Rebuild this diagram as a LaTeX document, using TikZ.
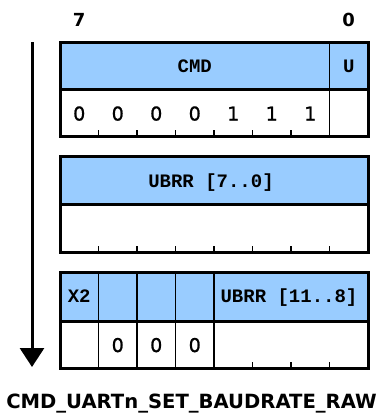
\documentclass[tikz,border=0pt]{standalone}
\usepackage{fontspec}
\usetikzlibrary{arrows.meta}
\newfontfamily\hdrfont{Liberation Mono}
\newfontfamily\valfont{DejaVu Sans}
\newfontfamily\valmedfont{DejaVu Sans}[FakeBold=1.2]
\definecolor{hdrblue}{HTML}{99CCFF}
\tikzset{
  outer/.style={line width=3pt, line join=miter},
  divider/.style={line width=1.6pt},
  tickmark/.style={line width=1.3pt},
  hdr/.style={font=\hdrfont\bfseries\fontsize{19}{19}\selectfont, anchor=base, inner sep=0pt},
  bitval/.style={font=\valmedfont\fontsize{19}{19}\selectfont, anchor=base, inner sep=0pt},
  bitnum/.style={font=\valfont\bfseries\fontsize{18}{18}\selectfont, anchor=base, inner sep=0pt},
  caption/.style={font=\valfont\bfseries\fontsize{19.6}{19.6}\selectfont, anchor=base, inner sep=0pt},
}
\begin{document}
\begin{tikzpicture}[x=1pt, y=-1pt]
\useasboundingbox (0,0) rectangle (383,415);

% bit numbering above the first byte
\node[bitnum] (msb) at (79.25,26.5) {7};
\node[bitnum] (lsb) at (348.75,26.5) {0};

% ---- byte 0: command code and U flag ----
\fill[hdrblue] (60,42) rectangle (368,89);
\draw[divider] (329.5,42) -- (329.5,136);
\foreach \k in {1,...,7} \draw[tickmark] ({60+38.5*\k},136) -- ++(0,-6);
\draw[outer] (60,42) rectangle (368,136);
\draw[outer] (60,89) -- (368,89);
\node[hdr] (cmd) at (194.75,72) {CMD};
\node[hdr] (uflag) at (348.75,72) {U};
\foreach \v [count=\i from 0] in {0,0,0,0,1,1,1}
  \node[bitval] (code\i) at ({79.25+38.5*\i},120.5) {\v};

% ---- byte 1: UBRR low bits ----
\fill[hdrblue] (60,156) rectangle (368,204);
\foreach \k in {1,...,7} \draw[tickmark] ({60+38.5*\k},252) -- ++(0,-6);
\draw[outer] (60,156) rectangle (368,252);
\draw[outer] (60,204) -- (368,204);
\node[hdr] (ubrrlo) at (211,187) {UBRR [7..0]};

% ---- byte 2: X2 flag, reserved zeros, UBRR high bits ----
\fill[hdrblue] (60,272) rectangle (368,321);
\foreach \k in {1,...,4} \draw[divider] ({60+38.5*\k},272) -- ({60+38.5*\k},368);
\foreach \k in {5,...,7} \draw[tickmark] ({60+38.5*\k},368) -- ++(0,-6);
\draw[outer] (60,272) rectangle (368,368);
\draw[outer] (60,321) -- (368,321);
\node[hdr] (xtwo) at (79.25,302) {X2};
\node[hdr] (ubrrhi) at (289,302) {UBRR [11..8]};
\foreach \i in {1,2,3}
  \node[bitval] (zero\i) at ({79.25+38.5*\i},352) {0};

% byte order arrow
\coordinate (arrtop) at (32,42);
\coordinate (arrtip) at (32,367);
\draw[line width=3pt, -{Triangle[width=24pt,length=19pt]}] (arrtop) -- (arrtip);

% command name
\node[caption] (cmdname) at (191.5,408) {CMD\_UARTn\_SET\_BAUDRATE\_RAW};
\end{tikzpicture}
\end{document}
